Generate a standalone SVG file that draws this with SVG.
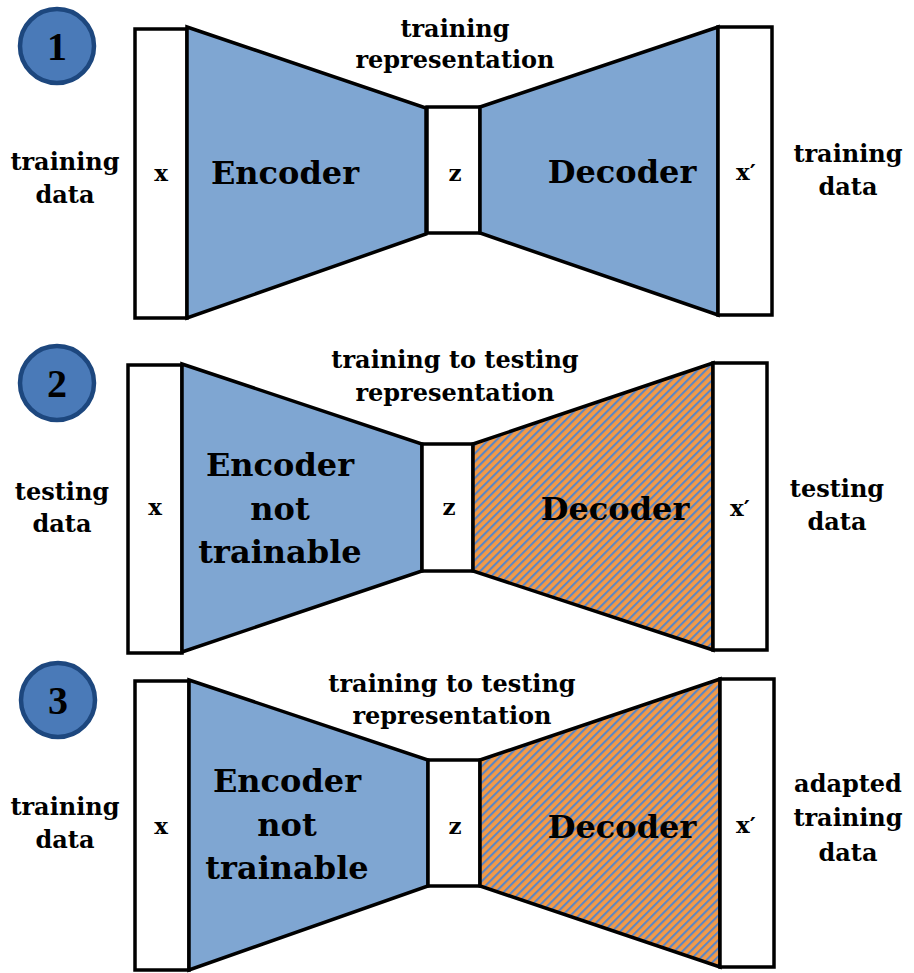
<svg xmlns="http://www.w3.org/2000/svg" width="914" height="973" viewBox="0 0 914 973">
<style>
.box{fill:#fff;stroke:#000;stroke-width:3.5;stroke-linejoin:miter}
.enc{fill:#7fa6d2;stroke:#000;stroke-width:3.5;stroke-linejoin:miter}
.dech{fill:url(#hatch);stroke:#000;stroke-width:3.5;stroke-linejoin:miter}
.num{fill:#4a7ab8;stroke:#1d477e;stroke-width:4.5}
text{font-family:"DejaVu Serif","Liberation Serif",serif;font-weight:bold;fill:#000;text-anchor:middle}
.s{font-size:24px}
.v{font-size:23px}
.b{font-size:32px}
.n{font-size:40px;font-family:"Liberation Serif",serif}
</style>
<defs>
<pattern id="hatch" patternUnits="userSpaceOnUse" width="5.8" height="5.8" patternTransform="rotate(45)">
<rect width="5.8" height="5.8" fill="#f39a47"/>
<rect width="2.1" height="5.8" fill="#5b86c4"/>
</pattern>
</defs>

<g id="panel1">
<g id="badge1"><circle class="num" cx="57" cy="46" r="37"/><text class="n" x="57" y="60">1</text></g>
<g id="x1"><rect class="box" x="135" y="29" width="52" height="289"/><text class="v" x="161" y="181">x</text></g>
<g id="enc1"><polygon class="enc" points="187,27 426,108 426,234 187,318"/><text class="b" x="285" y="184">Encoder</text></g>
<g id="z1"><rect class="box" x="427" y="107" width="53" height="126"/><text class="v" x="455" y="181">z</text></g>
<g id="dec1"><polygon class="enc" points="480,107 718,27 718,315 480,233"/><text class="b" x="622" y="183">Decoder</text></g>
<g id="xp1"><rect class="box" x="718" y="27" width="54" height="288"/><text class="v" x="746" y="180">x′</text></g>
<g id="lbl1"><text class="s" x="65" y="170">training</text><text class="s" x="65" y="203">data</text>
<text class="s" x="848" y="162">training</text><text class="s" x="848" y="195">data</text>
<text class="s" x="455" y="37">training</text><text class="s" x="455" y="68">representation</text></g>
</g>

<g id="panel2">
<g id="badge2"><circle class="num" cx="57" cy="383" r="37"/><text class="n" x="57" y="397">2</text></g>
<g id="x2"><rect class="box" x="128" y="365" width="54" height="288"/><text class="v" x="155" y="515">x</text></g>
<g id="enc2"><polygon class="enc" points="182,364 422,444 422,571 182,652"/><text class="b" x="280" y="476">Encoder</text><text class="b" x="280" y="520">not</text><text class="b" x="280" y="563">trainable</text></g>
<g id="z2"><rect class="box" x="422" y="444" width="51" height="127"/><text class="v" x="449" y="515">z</text></g>
<g id="dec2"><polygon class="dech" points="473,444 713,363 713,650 473,571"/><text class="b" x="615" y="520">Decoder</text></g>
<g id="xp2"><rect class="box" x="713" y="363" width="54" height="287"/><text class="v" x="740" y="516">x′</text></g>
<g id="lbl2"><text class="s" x="62" y="500">testing</text><text class="s" x="62" y="532">data</text>
<text class="s" x="837" y="497">testing</text><text class="s" x="837" y="530">data</text>
<text class="s" x="455" y="368">training to testing</text><text class="s" x="455" y="401">representation</text></g>
</g>

<g id="panel3">
<g id="badge3"><circle class="num" cx="58" cy="700" r="37"/><text class="n" x="58" y="714">3</text></g>
<g id="x3"><rect class="box" x="135" y="681" width="54" height="289"/><text class="v" x="161" y="834">x</text></g>
<g id="enc3"><polygon class="enc" points="189,680 428,760 428,886 189,970"/><text class="b" x="287" y="792">Encoder</text><text class="b" x="287" y="836">not</text><text class="b" x="287" y="879">trainable</text></g>
<g id="z3"><rect class="box" x="428" y="760" width="52" height="126"/><text class="v" x="455" y="834">z</text></g>
<g id="dec3"><polygon class="dech" points="480,760 720,679 720,967 480,886"/><text class="b" x="622" y="838">Decoder</text></g>
<g id="xp3"><rect class="box" x="720" y="679" width="54" height="288"/><text class="v" x="746" y="833">x′</text></g>
<g id="lbl3"><text class="s" x="65" y="815">training</text><text class="s" x="65" y="848">data</text>
<text class="s" x="848" y="792">adapted</text><text class="s" x="848" y="826">training</text><text class="s" x="848" y="861">data</text>
<text class="s" x="452" y="692">training to testing</text><text class="s" x="452" y="724">representation</text></g>
</g>

<g id="connectors"></g>
</svg>
